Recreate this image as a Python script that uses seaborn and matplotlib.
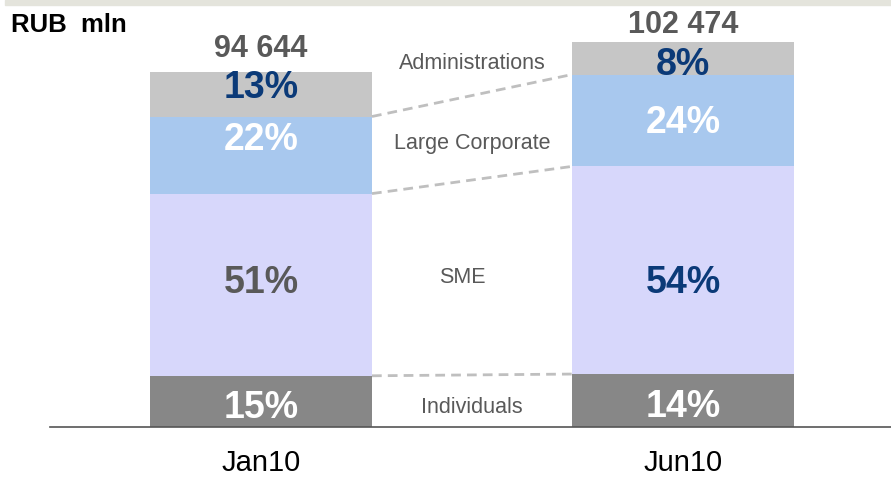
import numpy as np
import pandas as pd
import matplotlib
matplotlib.use("Agg")
import matplotlib.pyplot as plt
import matplotlib.transforms as mtransforms
from matplotlib.patches import Rectangle
import seaborn as sns

# ---- data (RUB mln) ----
periods = ["Jan10", "Jun10"]
totals = [94644, 102474]
segments = ["Individuals", "SME", "Large Corporate", "Administrations"]
individuals = [13650, 14110]
sme = [48560, 55340]
large_corp = [20540, 24490]
admin = [11894, 8534]
pct_labels = [["15%", "51%", "22%", "13%"],
              ["14%", "54%", "24%", "8%"]]

# ---- style ----
sns.set_style("white")
plt.rcParams["font.family"] = ["Liberation Sans", "DejaVu Sans"]

seg_colors = ["#878787", "#D7D7FB", "#A8C8EE", "#C6C6C6"]
DARK_BLUE = "#0B3A78"
GREY_TXT = "#595959"
pct_colors = [["white", GREY_TXT, "white", DARK_BLUE],
              ["white", DARK_BLUE, "white", DARK_BLUE]]
pct_shift = [[-2, 4, 14, 7], [-2, -6, 1, -2]]   # points, fine placement
BAR_W = 0.526

values = np.array([individuals, sme, large_corp, admin], dtype=float)
cum = values.cumsum(axis=0)
df = pd.DataFrame({"period": periods})
for name, row in zip(segments, cum):
    df[name] = row

fig = plt.figure(figsize=(8.91, 4.80), dpi=100)
ax = fig.add_axes([50 / 891, 53 / 480, 844 / 891, 427 / 480])

# top grey band
fig.patches.append(Rectangle((5 / 891, 1 - 5 / 480), 1, 5 / 480,
                             transform=fig.transFigure, color="#E4E4DC",
                             zorder=0))

# stacked bars: draw cumulative heights from top layer down
for name, col in reversed(list(zip(segments, seg_colors))):
    sns.barplot(data=df, x="period", y=name, order=periods, color=col,
                saturation=1, width=BAR_W, linewidth=0, errorbar=None, ax=ax)

ax.set_xlim(-0.5, 1.5)
ax.set_ylim(0, 113800)
ax.set_xlabel("")
ax.set_ylabel("")
ax.set_yticks([])
for s in ["top", "right", "left"]:
    ax.spines[s].set_visible(False)
ax.spines["bottom"].set_color("#555555")
ax.spines["bottom"].set_linewidth(1.2)
ax.tick_params(axis="x", which="major", length=0, pad=16, labelsize=21,
               labelcolor="black")
ax.set_xticks([-0.5, 0.5, 1.5], minor=True)
ax.tick_params(axis="x", which="minor", length=6, width=1, color="#555555",
               direction="out")

# dashed connectors between segment boundaries
for k in range(3):
    ax.plot([0 + BAR_W / 2, 1 - BAR_W / 2], [cum[k, 0], cum[k, 1]],
            ls=(0, (3.5, 2.2)), color="#BFBFBF", lw=2, zorder=1)

# percentage labels
for i in range(len(periods)):
    bottoms = np.concatenate([[0], cum[:-1, i]])
    for k in range(len(segments)):
        mid = bottoms[k] + values[k, i] / 2
        ax.annotate(pct_labels[i][k], (i, mid), xytext=(0, pct_shift[i][k]),
                    textcoords="offset points", ha="center",
                    va="center_baseline", fontsize=27, fontweight="bold",
                    color=pct_colors[i][k])

# totals above bars
tot_shift = [11, 6.5]
for i, t in enumerate(totals):
    ax.annotate(f"{t:,}".replace(",", " "), (i, t), xytext=(0, tot_shift[i]),
                textcoords="offset points", ha="center", va="baseline",
                fontsize=22, fontweight="bold", color=GREY_TXT)

# segment names between the bars
trans = mtransforms.blended_transform_factory(ax.transData, ax.transAxes)
name_pos = {"Administrations": (0.5, 0.852), "Large Corporate": (0.5, 0.665),
            "SME": (0.476, 0.349), "Individuals": (0.5, 0.046)}
for name in segments:
    x, y = name_pos[name]
    ax.text(x, y, name, transform=trans, ha="center", va="center",
            fontsize=15.5, color=GREY_TXT)

fig.text(11 / 891, 1 - 25 / 480, "RUB  mln", ha="left", va="center",
         fontsize=18.5, fontweight="bold", color="black")

fig.savefig("out.png", dpi=100)
